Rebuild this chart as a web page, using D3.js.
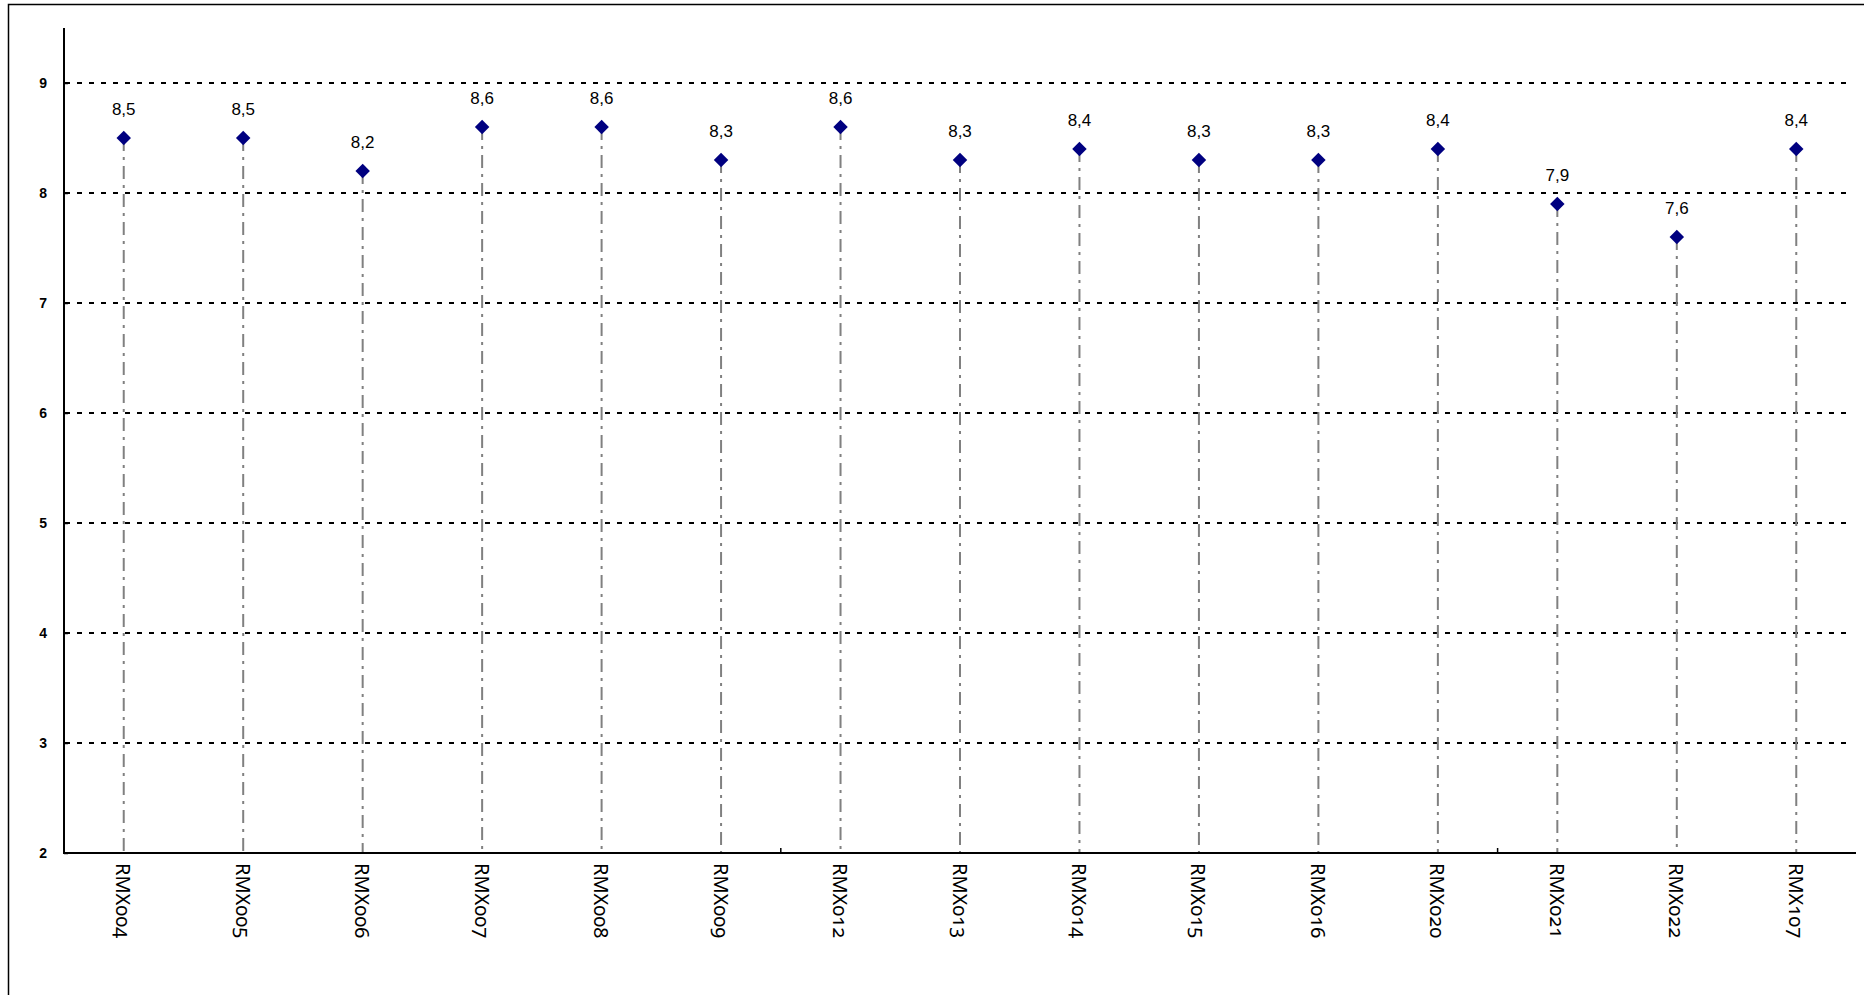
<!DOCTYPE html>
<html>
<head>
<meta charset="utf-8">
<script src="https://cdn.jsdelivr.net/npm/d3@7/dist/d3.min.js"></script>
<style>
  html, body { margin: 0; padding: 0; background: #fff; }
  svg { display: block; }
</style>
</head>
<body>
<svg id="chart" width="1864" height="995"></svg>
<script>
const categories = ["RMX004","RMX005","RMX006","RMX007","RMX008","RMX009","RMX012","RMX013","RMX014","RMX015","RMX016","RMX020","RMX021","RMX022","RMX107"];
const values = [8.5, 8.5, 8.2, 8.6, 8.6, 8.3, 8.6, 8.3, 8.4, 8.3, 8.3, 8.4, 7.9, 7.6, 8.4];
const valueLabels = ["8,5","8,5","8,2","8,6","8,6","8,3","8,6","8,3","8,4","8,3","8,3","8,4","7,9","7,6","8,4"];
const yTicks = [2, 3, 4, 5, 6, 7, 8, 9];
const yDomain = [2, 9.5];

(function () {
const svg = d3.select("#chart");

// outer frame
svg.append("rect")
  .attr("x", 8.5).attr("y", 4.5)
  .attr("width", 2000).attr("height", 1200)
  .attr("fill", "none").attr("stroke", "#000").attr("stroke-width", 1.5);

const mLeft = 64, mRight = 1856, mTop = 28, mBottom = 853;

const x = d3.scaleBand().domain(categories).range([mLeft, mRight]).padding(0);
const y = d3.scaleLinear().domain(yDomain).range([mBottom, mTop]);

// gridlines
svg.append("g")
  .selectAll("line")
  .data(yTicks.filter(d => d > 2))
  .join("line")
  .attr("x1", mLeft + 1).attr("x2", 1849)
  .attr("y1", d => y(d)).attr("y2", d => y(d))
  .attr("stroke", "#000").attr("stroke-width", 2)
  .attr("stroke-dasharray", "5,7");

// drop lines
svg.append("g")
  .selectAll("line")
  .data(categories)
  .join("line")
  .attr("x1", d => x(d) + x.bandwidth() / 2)
  .attr("x2", d => x(d) + x.bandwidth() / 2)
  .attr("y1", (d, i) => y(values[i]))
  .attr("y2", mBottom)
  .attr("stroke", "#808080").attr("stroke-width", 2)
  .attr("stroke-dasharray", "13,6,3,6");

// y axis
const yAxis = d3.axisLeft(y).tickValues(yTicks).tickSize(-4).tickPadding(17).tickFormat(d3.format("d"));
const gy = svg.append("g").attr("transform", `translate(${mLeft},0)`).call(yAxis);
gy.select(".domain").attr("stroke", "#000").attr("stroke-width", 2).attr("d", `M0,${mTop}V${mBottom}`);
gy.selectAll(".tick line").attr("stroke", "#000").attr("stroke-width", 1.5);
gy.selectAll(".tick text")
  .attr("font-family", "'Liberation Sans', Arial, sans-serif")
  .attr("font-weight", "bold").attr("font-size", 14).attr("fill", "#000");

// x axis
const gx = svg.append("g").attr("transform", `translate(0,${mBottom})`);
gx.append("line").attr("x1", mLeft - 1).attr("x2", mRight).attr("y1", 0).attr("y2", 0)
  .attr("stroke", "#000").attr("stroke-width", 2);
gx.selectAll("line.tk")
  .data(categories.filter((d, i) => i > 0 && i % 6 === 0))
  .join("line").attr("class", "tk")
  .attr("x1", d => x(d)).attr("x2", d => x(d))
  .attr("y1", -5).attr("y2", 0)
  .attr("stroke", "#000").attr("stroke-width", 1.5);
gx.selectAll("text")
  .data(categories)
  .join("text")
  .attr("transform", d => `translate(${x(d) + x.bandwidth() / 2},10) rotate(90)`)
  .attr("text-anchor", "start")
  .attr("dominant-baseline", "central")
  .attr("font-family", "'Noto Sans', sans-serif")
  .attr("font-size", 20)
  .style("font-variant-numeric", "oldstyle-nums")
  .style("font-feature-settings", "'onum' 1")
  .attr("fill", "#000")
  .text(d => d);

// markers
svg.append("g")
  .selectAll("path")
  .data(categories)
  .join("path")
  .attr("d", d3.symbol(d3.symbolSquare, 105))
  .attr("transform", (d, i) => `translate(${x(d) + x.bandwidth() / 2},${y(values[i])}) rotate(45)`)
  .attr("fill", "#000080");

// value labels
svg.append("g")
  .selectAll("text")
  .data(categories)
  .join("text")
  .attr("x", d => x(d) + x.bandwidth() / 2)
  .attr("y", (d, i) => y(values[i]) - 23)
  .attr("text-anchor", "middle")
  .attr("font-family", "'Liberation Sans', Arial, sans-serif")
  .attr("font-size", 17)
  .attr("fill", "#000")
  .text((d, i) => valueLabels[i]);
})();
</script>
</body>
</html>
